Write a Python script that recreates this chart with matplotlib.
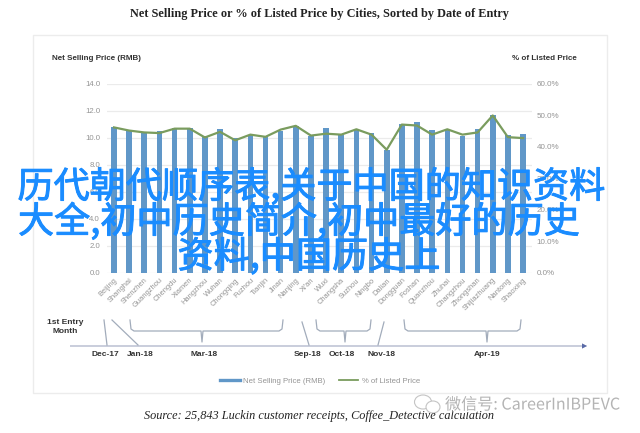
import matplotlib
matplotlib.use("Agg")
import matplotlib.pyplot as plt
from matplotlib.lines import Line2D
from matplotlib.patches import Rectangle, Ellipse, FancyArrow
import matplotlib.patheffects as pe

cities = ["Beijing","Shanghai","Shenzhen","Guangzhou","Chengdu","Xiamen","Hangzhou","Wuhan","Chongqing","Fuzhou",
          "Tianjin","Jinan","Nanjing","Xi'an","Wuxi","Changsha","Suzhou","Ningbo","Dalian","Dongguan",
          "Foshan","Quanzhou","Zhuhai","Changzhou","Zhongshan","Shijiazhuang","Nantong","Shaoxing"]
price = [10.8,10.6,10.45,10.5,10.7,10.7,10.15,10.65,10.0,10.25,
         10.1,10.55,10.9,10.15,10.7,10.25,10.65,10.4,9.1,11.0,
         11.15,10.6,10.65,10.15,10.65,11.7,10.2,10.3]
pct = [46.2,45.2,44.6,44.4,45.8,45.8,43.0,44.8,42.1,43.9,
       43.2,45.5,46.7,43.6,44.2,43.9,45.6,43.9,39.1,47.1,
       46.8,43.9,45.6,43.9,44.6,50.0,43.1,42.8]
title = "Net Selling Price or % of Listed Price by Cities, Sorted by Date of Entry"
source = "Source: 25,843 Luckin customer receipts, Coffee_Detective calculation"
overlay_lines = ["历代朝代顺序表,关于中国的知识资料", "大全,初中历史简介,初中最好的历史", "资料,中国历史上"]
entry_months = ["Dec-17","Jan-18","Mar-18","Sep-18","Oct-18","Nov-18","Apr-19"]

W, H = 640, 433
BLUE, GREEN, GRAY = "#6097c8", "#7a9c5e", "#949494"
SANS = ["Liberation Sans", "DejaVu Sans"]
SERIF = ["Liberation Serif", "DejaVu Serif"]
CJK = ["Noto Sans CJK SC", "DejaVu Sans"]

fig = plt.figure(figsize=(W/100, H/100), dpi=100, facecolor="white")
L, R, T, B = 107, 532, 84, 272.7
ax = fig.add_axes([L/W, 1-B/H, (R-L)/W, (B-T)/H], facecolor="none")
x = list(range(len(cities)))
ax.bar(x, price, width=0.37, color=BLUE, zorder=2)
ax.set_xlim(-0.46, 27.59)
ax.set_ylim(0, 14)
ax.set_yticks(range(0, 15, 2))
ax.set_yticklabels([f"{v:.1f}" for v in range(0, 15, 2)], fontsize=5.6, color=GRAY, family=SANS)
ax.set_xticks(x)
ax.set_xticklabels(cities, rotation=45, ha="right", va="top", rotation_mode="anchor",
                   fontsize=5.4, color=GRAY, family=SANS)
ax.tick_params(length=0, pad=5)
ax.tick_params(axis="x", pad=3)
ax.grid(axis="y", color="#ebebeb", lw=0.9, zorder=0)
for s in ax.spines.values():
    s.set_visible(False)

ax2 = ax.twinx()
ax2.plot(x, pct, color=GREEN, lw=1.6, zorder=3)
ax2.set_ylim(0, 60)
ax2.set_yticks(range(0, 61, 10))
ax2.set_yticklabels([f"{v:.1f}%" for v in range(0, 61, 10)], fontsize=5.8, color=GRAY, family=SANS)
ax2.tick_params(length=0, pad=3.5)
for s in ax2.spines.values():
    s.set_visible(False)

ov = fig.add_axes([0, 0, 1, 1], facecolor="none", zorder=5)
ov.set_xlim(0, W); ov.set_ylim(H, 0); ov.axis("off")
ov.add_patch(Rectangle((32.5, 35), 574, 358, fill=False, ec="#ececec", lw=1))

ov.text(319, 14, title, ha="center", va="center", family=SERIF, weight="bold", fontsize=8.85, color="#222222")
ov.text(319.5, 415.5, source, ha="center", va="center", family=SERIF, style="italic", fontsize=8.85, color="#222222")
ov.text(52, 59, "Net Selling Price (RMB)", ha="left", va="center", family=SANS, weight="bold", fontsize=5.8, color="#333333")
ov.text(512, 59, "% of Listed Price", ha="left", va="center", family=SANS, weight="bold", fontsize=5.8, color="#333333")
ov.text(65.5, 327, "1st Entry\nMonth", ha="center", va="center", family=SANS, weight="bold", fontsize=6, color="#333333", linespacing=1.4)

LINE = "#a2acbb"
ov.add_patch(FancyArrow(70, 346, 517, 0, width=1.1, head_width=5, head_length=5,
                        length_includes_head=True, color="#a0a8c0", lw=0))
ov.add_patch(FancyArrow(582, 346, 5, 0, width=1, head_width=5, head_length=5,
                        length_includes_head=True, color="#5a6aa8", lw=0))
for (x0, y0, x1, y1) in [(104, 320, 107, 345), (112, 320, 138, 345), (302, 322, 309, 345), (384, 322, 378, 345)]:
    ov.plot([x0, x1], [y0, y1], color=LINE, lw=0.9)
for (x0, x1, xm) in [(130, 283, 202), (316, 371, 345), (404, 521, 487)]:
    ov.plot([x0, x0+1, x0+4, xm-1, xm, xm+1, x1-4, x1-1, x1],
            [320, 329, 331, 331, 342, 331, 331, 329, 320], color=LINE, lw=0.9)
for lab, xp in zip(entry_months, [105, 140, 204, 308, 342, 382, 487]):
    ov.text(xp, 354.5, lab, ha="center", va="center", family=SANS, weight="bold", fontsize=6, color="#333333")

handles = [Line2D([], [], color=BLUE, lw=2.4), Line2D([], [], color=GREEN, lw=1.3)]
ov.legend(handles, ["Net Selling Price (RMB)", "% of Listed Price"], ncol=2, frameon=False,
          loc="center", bbox_to_anchor=(320/W, 1-381/H), bbox_transform=fig.transFigure,
          prop={"family": SANS, "size": 5.6}, labelcolor=GRAY, handlelength=2.5, handletextpad=0.4, columnspacing=1.8)

for line, xc, yc in zip(overlay_lines, [311.5, 299, 309], [187, 222, 257]):
    ov.text(xc, yc, line, ha="center", va="center", family=CJK, fontsize=26, color="#1a8cff",
            path_effects=[pe.withStroke(linewidth=0.7, foreground="#1a8cff")])

halo = [pe.withStroke(linewidth=2, foreground="white")]
ov.add_patch(Ellipse((423, 402), 17, 14, fill=True, fc="white", ec="#c4c4c4", lw=0.8))
ov.add_patch(Ellipse((433, 407), 14, 12, fill=True, fc="white", ec="#c4c4c4", lw=0.8))
ov.text(445, 405, "微信号: CareerInIBPEVC", ha="left", va="center", family=CJK, fontsize=11.6, color="#b4b4b4", path_effects=halo)

fig.savefig("out.png", dpi=100)
